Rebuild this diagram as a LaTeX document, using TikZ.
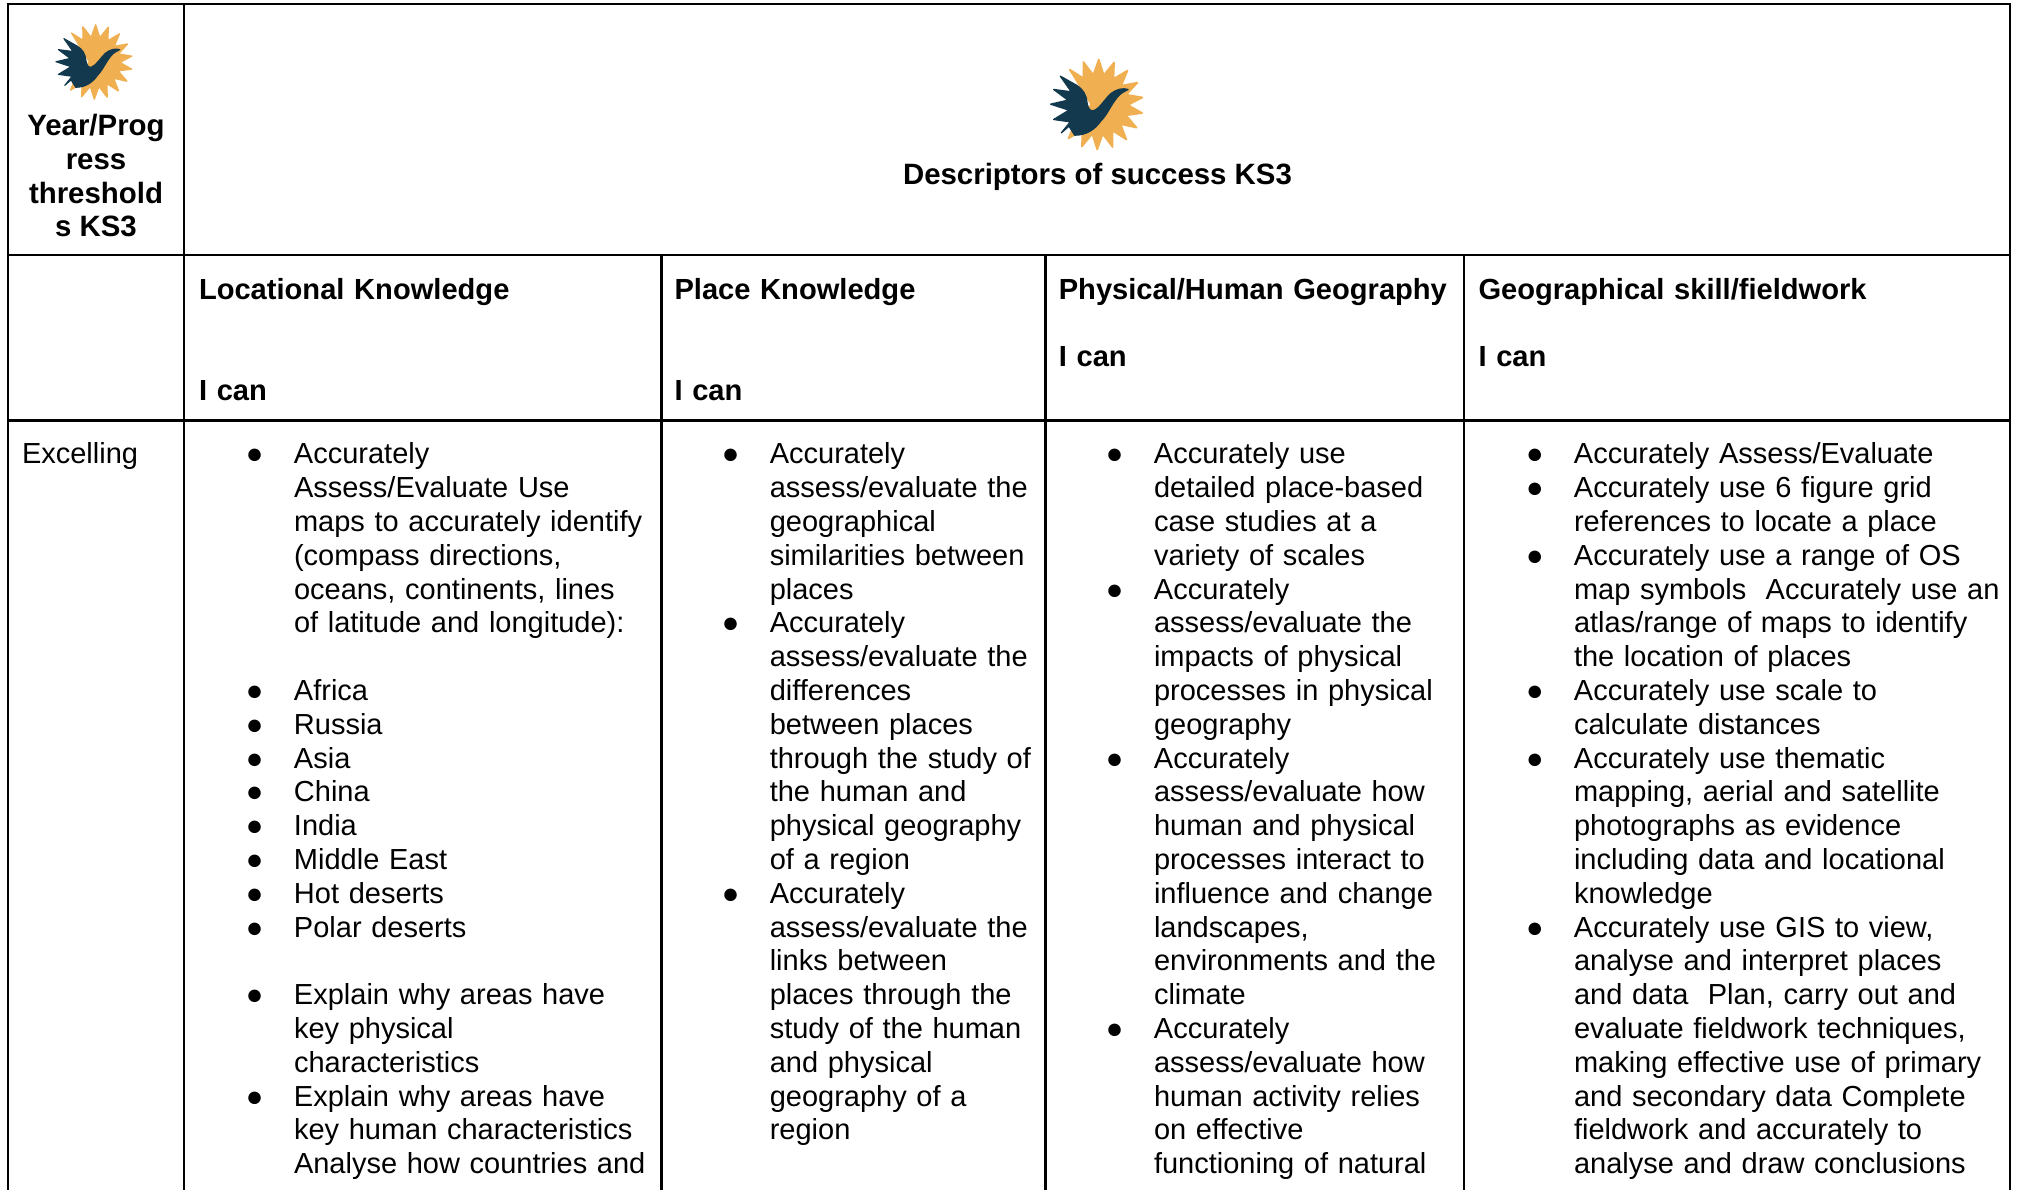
\documentclass[tikz,border=0pt]{standalone}
\usepackage{fontspec}
\setmainfont{Liberation Sans}
\newcommand{\bl}{\leavevmode\llap{●\hspace{30.5pt}}}
\definecolor{sunorange}{HTML}{F0AF50}
\definecolor{birdblue}{HTML}{12394D}
\tikzset{
  grid/.style={draw=black,line width=2.2pt},
  cell/.style={anchor=north west,inner sep=0pt,outer sep=0pt,align=left,
    font=\fontsize{29}{33.8}\selectfont,execute at begin node=\strut},
  headcell/.style={cell,font=\fontsize{29.1}{33.8}\selectfont\bfseries},
  head/.style={anchor=base,inner sep=0pt,align=center,font=\fontsize{29.4}{33.8}\selectfont\bfseries},
  birdlogo/.pic={
    \begin{scope}[x=#1,y=-#1]
    \filldraw[sunorange,line join=round,line width=5*#1]
      (-129:135) \foreach \a in {-129,-109,...,131}{ -- (\a:135) -- (\a+10:90) } -- (-20,0) -- cycle;
    \filldraw[birdblue,line join=round,line width=4*#1]
      (-113,-85) -- (-65,-58) .. controls (-45,-45) and (-35,-30) .. (-33,-5)
      .. controls (-30,15) and (-22,22) .. (-12,18)
      .. controls (5,12) and (20,-15) .. (38,-32)
      .. controls (55,-46) and (75,-50) .. (90,-45)
      .. controls (78,-38) and (68,-35) .. (58,-22)
      .. controls (38,2) and (28,30) .. (8,50)
      .. controls (-10,75) and (-35,92) .. (-70,92)
      -- (-87,65) -- (-110,85) -- (-83,52) -- (-133,45) -- (-87,17) -- (-142,-1)
      -- (-90,-13) -- (-133,-45) -- (-80,-38) -- cycle;
    \end{scope}
  }
}
\begin{document}
\begin{tikzpicture}[x=1pt,y=-1pt]
\useasboundingbox[fill=white] (0,0) rectangle (2021,1190);
% grid
\draw[grid] (8,1190) -- (8,4.4) -- (2010,4.4) -- (2010,1190);
\draw[grid] (8,255) -- (2010,255);
\draw[grid] (8,420.5) -- (2010,420.5);
\draw[grid] (184,4.4) -- (184,1190);
\draw[grid] (661.5,255) -- (661.5,1190);
\draw[grid] (1045.5,255) -- (1045.5,1190);
\draw[grid] (1464,255) -- (1464,1190);
% logos
\pic at (95,62) {birdlogo=0.275pt};
\pic at (1098,104.5) {birdlogo=0.3333pt};
% heads
\node[head] (yearhead) at (96,237) {Year/Prog\\ress\\threshold\\s KS3};
\node[head] (deschead) at (1097.5,185) {Descriptors of success KS3};
% column headers
\node[headcell,text width=450pt] (h1) at (199,275.5) {Locational Knowledge\\\strut\\\strut\\I can};
\node[headcell,text width=360pt] (h2) at (674.5,275.5) {Place Knowledge\\\strut\\\strut\\I can};
\node[headcell,text width=400pt] (h3) at (1058.8,275.5) {Physical/Human Geography\\\strut\\I can};
\node[headcell,text width=500pt] (h4) at (1478.5,275.5) {Geographical skill/fieldwork\\\strut\\I can};
% body
\node[cell,text width=150pt] (rowlabel) at (22,440.2) {Excelling};
\node[cell,text width=362pt] (c1) at (294,440.2) {%
\bl Accurately\\
Assess/Evaluate Use\\
maps to accurately identify\\
(compass directions,\\
oceans, continents, lines\\
of latitude and longitude):\\
\strut\\
\bl Africa\\
\bl Russia\\
\bl Asia\\
\bl China\\
\bl India\\
\bl Middle East\\
\bl Hot deserts\\
\bl Polar deserts\\
\strut\\
\bl Explain why areas have\\
key physical\\
characteristics\\
\bl Explain why areas have\\
key human characteristics\\
Analyse how countries and};
\node[cell,text width=272pt] (c2) at (769.8,440.2) {%
\bl Accurately\\
assess/evaluate the\\
geographical\\
similarities between\\
places\\
\bl Accurately\\
assess/evaluate the\\
differences\\
between places\\
through the study of\\
the human and\\
physical geography\\
of a region\\
\bl Accurately\\
assess/evaluate the\\
links between\\
places through the\\
study of the human\\
and physical\\
geography of a\\
region};
\node[cell,text width=306pt] (c3) at (1154,440.2) {%
\bl Accurately use\\
detailed place-based\\
case studies at a\\
variety of scales\\
\bl Accurately\\
assess/evaluate the\\
impacts of physical\\
processes in physical\\
geography\\
\bl Accurately\\
assess/evaluate how\\
human and physical\\
processes interact to\\
influence and change\\
landscapes,\\
environments and the\\
climate\\
\bl Accurately\\
assess/evaluate how\\
human activity relies\\
on effective\\
functioning of natural};
\node[cell,text width=430pt] (c4) at (1574,440.2) {%
\bl Accurately Assess/Evaluate\\
\bl Accurately use 6 figure grid\\
references to locate a place\\
\bl Accurately use a range of OS\\
map symbols\ \ Accurately use an\\
atlas/range of maps to identify\\
the location of places\\
\bl Accurately use scale to\\
calculate distances\\
\bl Accurately use thematic\\
mapping, aerial and satellite\\
photographs as evidence\\
including data and locational\\
knowledge\\
\bl Accurately use GIS to view,\\
analyse and interpret places\\
and data\ \ Plan, carry out and\\
evaluate fieldwork techniques,\\
making effective use of primary\\
and secondary data Complete\\
fieldwork and accurately to\\
analyse and draw conclusions};
\end{tikzpicture}
\end{document}
